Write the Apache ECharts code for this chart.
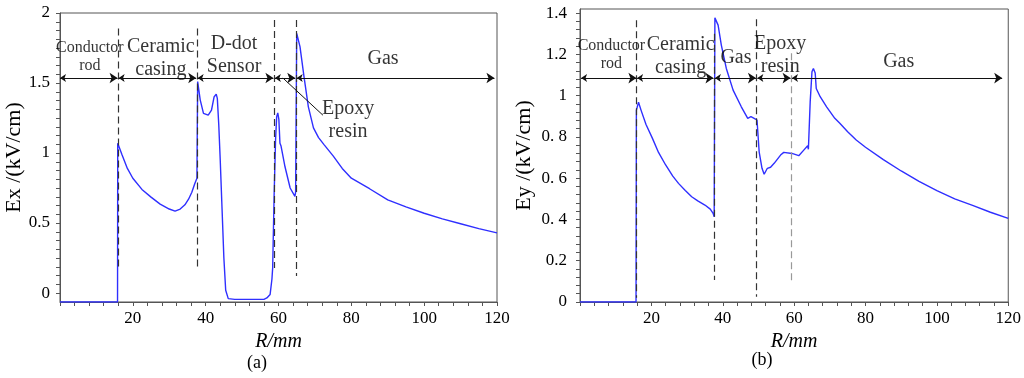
<!DOCTYPE html>
<html>
<head>
<meta charset="utf-8">
<script src="https://cdn.jsdelivr.net/npm/echarts@6/dist/echarts.min.js"></script>
<style>html,body{margin:0;padding:0;background:#fff;}#c{width:1024px;height:378px;}</style>
</head>
<body>
<div id="c"></div>
<script>
// ---- data: (a) Ex vs R ----
var exData = [[0,-0.064],[15.8,-0.064],[15.85,1.07],[17,0.99],[18.5,0.89],[20,0.82],[22.5,0.74],[25,0.685],[27.5,0.635],[30,0.60],[31.6,0.585],[33,0.60],[34.3,0.63],[35.3,0.67],[36.2,0.72],[37.0,0.78],[37.6,0.82],[37.8,1.51],[38.5,1.38],[39.4,1.283],[40.7,1.271],[41.6,1.307],[42.3,1.40],[42.9,1.421],[43.2,1.39],[43.6,1.20],[44.0,0.95],[44.5,0.60],[45.0,0.25],[45.5,0.02],[46.2,-0.04],[48,-0.045],[52,-0.045],[56.0,-0.045],[56.8,-0.035],[57.7,-0.01],[58.2,0.10],[58.4,0.18],[58.8,0.70],[59.2,1.10],[59.5,1.26],[59.8,1.286],[60.1,1.24],[60.4,1.07],[60.7,1.05],[61.8,0.90],[63.2,0.75],[64.5,0.69],[64.7,0.72],[65.0,1.855],[65.9,1.76],[67.0,1.545],[68.2,1.33],[69.6,1.18],[71,1.11],[72.5,1.06],[75,0.98],[77.5,0.89],[80,0.82],[85,0.745],[90,0.665],[95,0.615],[100,0.57],[105,0.53],[110,0.495],[115,0.46],[120,0.43]];
// ---- data: (b) Ey vs R ----
var eyData = [[0,0],[15.7,0],[15.8,0.93],[16.4,0.968],[17.1,0.93],[18.5,0.86],[20.3,0.793],[22,0.725],[24,0.664],[26,0.61],[27.6,0.575],[29.5,0.54],[31.3,0.51],[33,0.49],[35,0.47],[36.5,0.45],[37.3,0.43],[37.6,0.413],[37.8,1.377],[38.7,1.342],[39.6,1.245],[41,1.132],[42.9,1.027],[45.2,0.946],[47,0.89],[47.9,0.898],[48.2,0.906],[48.8,0.89],[49.6,0.882],[50.2,0.728],[51.0,0.648],[51.6,0.619],[52.5,0.648],[53.4,0.653],[54.4,0.672],[56.2,0.712],[57.1,0.725],[59.4,0.72],[61.3,0.709],[62.7,0.736],[63.8,0.757],[64.0,0.74],[64.5,0.97],[65.0,1.116],[65.4,1.132],[65.9,1.11],[66.2,1.035],[67.3,0.995],[69.1,0.946],[71.4,0.89],[72.8,0.866],[75,0.825],[77.4,0.785],[80,0.75],[85,0.69],[90,0.635],[95,0.585],[100,0.54],[105,0.50],[110,0.468],[115,0.435],[120,0.405]];

// ---- tick labels ----
var xLabelValues = [20,40,60,80,100,120];
var exLabelValues = [0,0.5,1,1.5,2];
var exLabelText = ['0','0.5','1','1.5','2'];
var eyLabelValues = [0,0.2,0.4,0.6,0.8,1,1.2,1.4];
var eyLabelText = ['0','0.2','0. 4','0. 6','0. 8','1','1.2','1.4'];

// ---- annotations: boundary dashed lines [R, top, bottom] ----
var exBounds = [[15.9,1.89,0.186],[37.6,1.89,0.164],[58.8,1.95,0.179],[64.8,1.95,0.121]];
var eyBounds = [[15.9,1.366,0.02],[37.6,1.30,0.107],[49.5,1.37,0.026]];
var eyBoundsGray = [[59.2,1.206,0.094]];
// region arrows [from, to] at a level
var exArrowLevel = 1.536;
var exArrows = [[0,15.8],[16.1,37.4],[37.8,58.6],[59.0,64.6],[65.0,119.3]];
var eyArrowLevel = 1.085;
var eyArrows = [[0.3,15.8],[16.0,37.4],[37.8,49.3],[49.7,59.0],[59.4,118.3]];
// region labels [R, value, text, fontSize]
var exRegions = [[8.2,1.686,'Conductor\nrod',16],[27.7,1.675,'Ceramic\ncasing',20],[47.8,1.696,'D-dot\nSensor',20],[88.7,1.671,'Gas',20],[79.1,1.236,'Epoxy\nresin',20]];
var eyRegions = [[8.8,1.197,'Conductor\nrod',16],[28.2,1.189,'Ceramic\ncasing',20],[43.7,1.182,'Gas',20],[56.1,1.197,'Epoxy\nresin',20],[89.3,1.163,'Gas',20]];
var exLeader = [[61.2,1.536],[72.2,1.27]];

function range(a, b, step){ var r=[]; for (var i=0; a+i*step <= b+1e-9; i++) r.push(+(a+i*step).toFixed(4)); return r; }

var FONT = "'Liberation Serif','Times New Roman',serif";
var AX = '#555';
var BLUE = '#2f2fff';
var TXT = '#000';

function xAxisCfg(g){
  return {
    type:'value', gridIndex:g, min:0, max:120,
    axisLine:{onZero:false, lineStyle:{color:AX, width:1}},
    axisTick:{customValues:range(0,120,4), length:4, lineStyle:{color:AX}},
    axisLabel:{customValues:xLabelValues, fontFamily:FONT, fontSize:17, color:TXT, margin:8},
    splitLine:{show:false},
    name:'R/mm', nameLocation:'middle', nameGap:21,
    nameTextStyle:{fontFamily:FONT, fontSize:20, fontStyle:'italic', color:TXT}
  };
}
function yAxisCfg(g, min, max, lv, lt, tstep, tmax, name, gap, lmargin){
  return {
    type:'value', gridIndex:g, min:min, max:max,
    axisLine:{show:true, lineStyle:{color:AX, width:1}},
    axisTick:{customValues:range(0,tmax,tstep), length:4, lineStyle:{color:AX}},
    axisLabel:{customValues:lv, fontFamily:FONT, fontSize:17, color:TXT, margin:lmargin,
      formatter:function(v){ for (var i=0;i<lv.length;i++) if (Math.abs(lv[i]-v)<1e-6) return lt[i]; return ''; }},
    splitLine:{show:false},
    name:name, nameLocation:'middle', nameGap:gap,
    nameTextStyle:{fontFamily:FONT, fontSize:22, color:TXT}
  };
}

function boundSeries(g, list, color){
  return {type:'lines', coordinateSystem:'cartesian2d', xAxisIndex:g, yAxisIndex:g, silent:true, z:4,
    symbol:'none',
    lineStyle:{color:color, width:1.2, type:[7,4], opacity:1},
    data:list.map(function(b){ return {coords:[[b[0],b[1]],[b[0],b[2]]]}; })};
}
function arrowSeries(g, list, level){
  return {type:'lines', coordinateSystem:'cartesian2d', xAxisIndex:g, yAxisIndex:g, silent:true, z:5,
    symbol:['arrow','arrow'], symbolSize:[6,8],
    lineStyle:{color:'#111', width:1, opacity:1},
    data:list.map(function(a){ return {coords:[[a[0],level],[a[1],level]]}; })};
}
function labelSeries(g, list){
  return {type:'scatter', xAxisIndex:g, yAxisIndex:g, silent:true, symbolSize:0, z:6,
    data:list.map(function(t){ return {value:[t[0],t[1]], name:t[2],
      label:{show:true, position:'inside', formatter:'{b}', fontFamily:FONT, fontSize:t[3],
        lineHeight:Math.round(t[3]*1.15), color:TXT, align:'center', verticalAlign:'middle'}}; })};
}

var chart = echarts.init(document.getElementById('c'), null, {renderer:'canvas'});
chart.setOption({
  backgroundColor:'#fff',
  animation:false,
  grid:[
    {left:60, right:527, top:13, bottom:76, show:true, borderColor:AX, borderWidth:1, backgroundColor:'transparent'},
    {left:580, right:10, top:9, bottom:76, show:true, borderColor:AX, borderWidth:1, backgroundColor:'transparent'}
  ],
  xAxis:[xAxisCfg(0), xAxisCfg(1)],
  yAxis:[
    yAxisCfg(0, -0.064, 2, exLabelValues, exLabelText, 0.0625, 2, 'Ex /(kV/cm)', 35, 10),
    yAxisCfg(1, 0, 1.42, eyLabelValues, eyLabelText, 0.04, 1.4, 'Ey /(kV/cm)', 45, 13)
  ],
  graphic:[
    {type:'text', x:257, y:363, style:{text:'(a)', font:'18px '+FONT, fill:TXT, textAlign:'center', textVerticalAlign:'middle'}},
    {type:'text', x:762, y:360, style:{text:'(b)', font:'18px '+FONT, fill:TXT, textAlign:'center', textVerticalAlign:'middle'}}
  ],
  series:[
    {type:'line', xAxisIndex:0, yAxisIndex:0, data:exData, showSymbol:false, z:3,
      lineStyle:{color:BLUE, width:1.4}},
    {type:'line', xAxisIndex:1, yAxisIndex:1, data:eyData, showSymbol:false, z:3,
      lineStyle:{color:BLUE, width:1.4}},
    boundSeries(0, exBounds, '#333'),
    boundSeries(1, eyBounds, '#333'),
    boundSeries(1, eyBoundsGray, '#999'),
    arrowSeries(0, exArrows, exArrowLevel),
    arrowSeries(1, eyArrows, eyArrowLevel),
    {type:'lines', coordinateSystem:'cartesian2d', xAxisIndex:0, yAxisIndex:0, silent:true, z:5, symbol:'none',
      lineStyle:{color:'#111', width:1, opacity:1}, data:[{coords:exLeader}]},
    labelSeries(0, exRegions),
    labelSeries(1, eyRegions)
  ]
});
</script>
</body>
</html>
